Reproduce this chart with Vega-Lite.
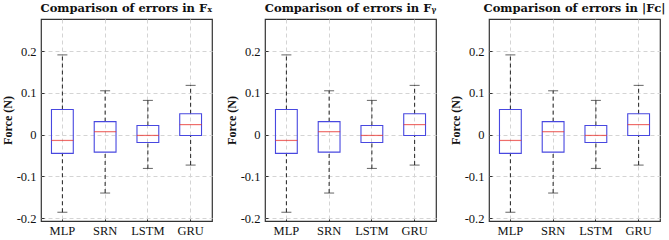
{
  "$schema": "https://vega.github.io/schema/vega-lite/v6.json",
  "background": "white",
  "padding": {"left": 0, "top": 2, "right": 0, "bottom": 0},
  "data": {
    "values": [
      {"panel": "Comparison of errors in Fₓ", "model": "MLP", "min": -0.186, "q1": -0.045, "median": -0.014, "q3": 0.060, "max": 0.191},
      {"panel": "Comparison of errors in Fₓ", "model": "SRN", "min": -0.140, "q1": -0.042, "median": 0.007, "q3": 0.031, "max": 0.105},
      {"panel": "Comparison of errors in Fₓ", "model": "LSTM", "min": -0.081, "q1": -0.019, "median": -0.002, "q3": 0.022, "max": 0.082},
      {"panel": "Comparison of errors in Fₓ", "model": "GRU", "min": -0.073, "q1": -0.002, "median": 0.024, "q3": 0.050, "max": 0.118},
      {"panel": "Comparison of errors in Fᵧ", "model": "MLP", "min": -0.186, "q1": -0.045, "median": -0.014, "q3": 0.060, "max": 0.191},
      {"panel": "Comparison of errors in Fᵧ", "model": "SRN", "min": -0.140, "q1": -0.042, "median": 0.007, "q3": 0.031, "max": 0.105},
      {"panel": "Comparison of errors in Fᵧ", "model": "LSTM", "min": -0.081, "q1": -0.019, "median": -0.002, "q3": 0.022, "max": 0.082},
      {"panel": "Comparison of errors in Fᵧ", "model": "GRU", "min": -0.073, "q1": -0.002, "median": 0.024, "q3": 0.050, "max": 0.118},
      {"panel": "Comparison of errors in |Fᴄ|", "model": "MLP", "min": -0.186, "q1": -0.045, "median": -0.014, "q3": 0.060, "max": 0.191},
      {"panel": "Comparison of errors in |Fᴄ|", "model": "SRN", "min": -0.140, "q1": -0.042, "median": 0.007, "q3": 0.031, "max": 0.105},
      {"panel": "Comparison of errors in |Fᴄ|", "model": "LSTM", "min": -0.081, "q1": -0.019, "median": -0.002, "q3": 0.022, "max": 0.082},
      {"panel": "Comparison of errors in |Fᴄ|", "model": "GRU", "min": -0.073, "q1": -0.002, "median": 0.024, "q3": 0.050, "max": 0.118}
    ]
  },
  "facet": {
    "column": {
      "field": "panel",
      "type": "nominal",
      "sort": ["Comparison of errors in Fₓ", "Comparison of errors in Fᵧ", "Comparison of errors in |Fᴄ|"],
      "header": {
        "title": null,
        "labelFont": "DejaVu Serif, Liberation Serif, serif",
        "labelFontWeight": "bold",
        "labelFontSize": 11.5,
        "labelColor": "#111111",
        "labelPadding": 5
      }
    }
  },
  "spacing": 53,
  "bounds": "flush",
  "resolve": {"axis": {"y": "independent"}},
  "spec": {
    "width": 171,
    "height": 202,
    "encoding": {
      "x": {
        "field": "model",
        "type": "nominal",
        "sort": ["MLP", "SRN", "LSTM", "GRU"],
        "scale": {"paddingInner": 0, "paddingOuter": 0},
        "axis": {
          "title": null,
          "labelAngle": 0,
          "bandPosition": 0.5,
          "grid": true,
          "ticks": true,
          "tickSize": -3,
          "labelPadding": 6
        }
      }
    },
    "layer": [
      {
        "mark": {"type": "rule", "color": "#222222", "strokeWidth": 1, "strokeDash": [4, 3]},
        "encoding": {
          "y": {
            "field": "q3",
            "type": "quantitative",
            "scale": {"domain": [-0.207, 0.277], "nice": false, "zero": false},
            "axis": {
              "title": "Force (N)",
              "values": [-0.2, -0.1, 0, 0.1, 0.2],
              "labelExpr": "datum.value == 0 ? '0' : replace(format(datum.value, '.1f'), '−', '-')",
              "grid": true,
              "ticks": true,
              "tickSize": -3,
              "labelPadding": 8,
              "titleX": -27
            }
          },
          "y2": {"field": "max"}
        }
      },
      {
        "mark": {"type": "rule", "color": "#222222", "strokeWidth": 1, "strokeDash": [4, 3]},
        "encoding": {
          "y": {"field": "min", "type": "quantitative"},
          "y2": {"field": "q1"}
        }
      },
      {
        "mark": {"type": "bar", "width": {"band": 0.51}, "fill": "transparent", "stroke": "#4848e0", "strokeWidth": 1.1},
        "encoding": {
          "y": {"field": "q1", "type": "quantitative"},
          "y2": {"field": "q3"}
        }
      },
      {
        "mark": {"type": "tick", "color": "#222222", "size": 10, "thickness": 1},
        "encoding": {"y": {"field": "max", "type": "quantitative"}}
      },
      {
        "mark": {"type": "tick", "color": "#222222", "size": 10, "thickness": 1},
        "encoding": {"y": {"field": "min", "type": "quantitative"}}
      },
      {
        "mark": {"type": "tick", "color": "#e8302c", "size": 22, "thickness": 1.2},
        "encoding": {"y": {"field": "median", "type": "quantitative"}}
      }
    ]
  },
  "config": {
    "view": {"stroke": "#333333", "strokeWidth": 1.2},
    "axis": {
      "domain": false,
      "gridColor": "#d4d4d4",
      "gridDash": [4, 3],
      "gridWidth": 1,
      "tickColor": "#333333",
      "labelFont": "Liberation Serif",
      "labelFontSize": 12.5,
      "labelColor": "#111111",
      "titleFont": "Liberation Serif",
      "titleFontSize": 12,
      "titleFontWeight": "bold",
      "titleColor": "#111111"
    }
  }
}
